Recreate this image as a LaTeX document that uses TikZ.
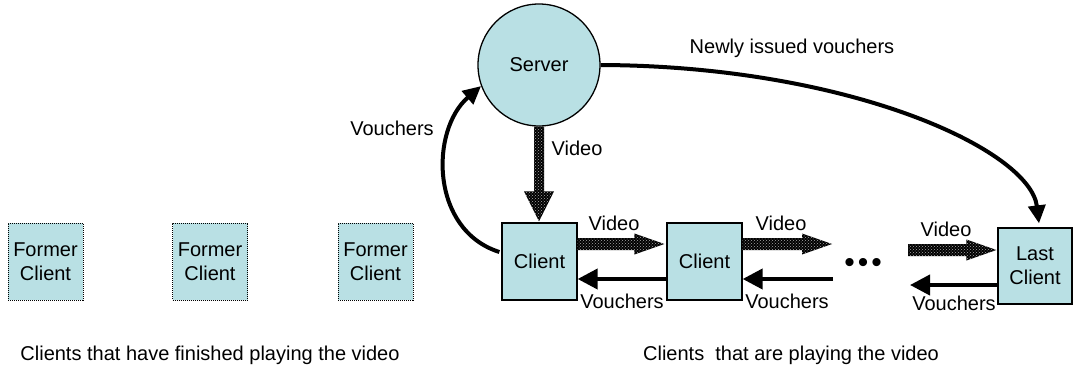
\documentclass[tikz,border=0pt]{standalone}
\usepackage{fontspec}
\setmainfont{Liberation Sans}
\usetikzlibrary{arrows.meta,calc,patterns}
\definecolor{boxfill}{RGB}{185,224,228}

\tikzset{
  every node/.style={font=\fontsize{20}{24}\selectfont},
  clientbox/.style={draw=black, line width=1.3pt, fill=boxfill,
    minimum width=75pt, minimum height=77pt, inner sep=0pt, align=center},
  formerbox/.style={clientbox, line width=1pt, densely dotted},
  serverball/.style={circle, draw=black, line width=1.3pt, fill=boxfill,
    minimum size=122pt, inner sep=0pt},
  voucherline/.style={line width=4pt, -{Triangle[length=20pt,width=20pt]}},
  vouchercurve/.style={line width=4pt, -{Triangle[length=18pt,width=17pt]}},
  videofill/.style={fill=black, postaction={pattern=crosshatch dots, pattern color=black!35}},
}

% fat patterned arrow, horizontal, from #1 to the tip #2
\newcommand\videoarrowH[2]{%
  \path[videofill] let \p1=(#1), \p2=(#2) in
    (\x1,\y1+6pt) -- (\x2-30pt,\y1+6pt) -- (\x2-30pt,\y1+10.5pt) -- (\x2,\y1)
    -- (\x2-30pt,\y1-10.5pt) -- (\x2-30pt,\y1-6pt) -- (\x1,\y1-6pt) -- cycle;}
% fat patterned arrow, pointing down, from #1 to the tip #2
\newcommand\videoarrowV[2]{%
  \path[videofill] let \p1=(#1), \p2=(#2) in
    (\x1-5pt,\y1) -- (\x1-5pt,\y2+30pt) -- (\x1-15pt,\y2+30pt) -- (\x1,\y2)
    -- (\x1+15pt,\y2+30pt) -- (\x1+5pt,\y2+30pt) -- (\x1+5pt,\y1) -- cycle;}

\begin{document}
\begin{tikzpicture}[x=1pt, y=-1pt]
\useasboundingbox (0,0) rectangle (1073,374);

% clients that are done
\node[formerbox] (f1) at (45.5,261.5) {Former\\Client};
\node[formerbox] (f2) at (210,261.5) {Former\\Client};
\node[formerbox] (f3) at (375.5,261.5) {Former\\Client};

% server and active chain
\node[serverball] (server) at (539,65) {Server};
\node[clientbox] (c1) at (539.5,261.5) {Client};
\node[clientbox] (c2) at (704.5,261.5) {Client};
\node[clientbox, minimum width=74pt, minimum height=76pt] (last) at (1035,266) {Last\\Client};
\node[anchor=base, font=\fontsize{30}{30}\selectfont] (dots) at (863,272) {•\hspace{3pt}•\hspace{3pt}•};

% free ends of the chain arrows
\coordinate (v2tip) at (832,244);
\coordinate (k2start) at (833,279);
\coordinate (v3start) at (908,250);
\coordinate (k3tip) at (910,285);

% video flow
\videoarrowV{server.south}{$(c1.north)+(0,-1)$}
\videoarrowH{$(c1.east)+(0,-17.5)$}{$(c2.west)+(-2,-17.5)$}
\videoarrowH{$(c2.east)+(0,-17.5)$}{v2tip}
\videoarrowH{v3start}{$(last.west)+(-1,-16)$}

% voucher flow
\draw[voucherline] ($(c2.west)+(0,17.5)$) -- ($(c1.east)+(0,17.5)$);
\draw[voucherline] (k2start) -- ($(c2.east)+(0,17.5)$);
\draw[voucherline] ($(last.west)+(0,19)$) -- (k3tip);
\draw[vouchercurve] ($(c1.west)+(-2,-9.5)$) .. controls (430,230) and (430,130) .. (server.200);
\draw[vouchercurve] (server.east) .. controls (850,66) and (1030,150) .. ($(last.north)+(4,-4)$);

% labels
\node (lnew) at (792,48) {Newly issued vouchers};
\node (lvleft) at (392,128) {Vouchers};
\node (lvid0) at (577,148) {Video};
\node (lvid1) at (614,223) {Video};
\node (lvid2) at (781,223) {Video};
\node (lvid3) at (946,229) {Video};
\node (lk1) at (622,301) {Vouchers};
\node (lk2) at (787,301) {Vouchers};
\node (lk3) at (954,303) {Vouchers};
\node (ldone) at (210,355) {Clients that have finished playing the video};
\node (lplay) at (791,355) {Clients\ \ that are playing the video};
\end{tikzpicture}
\end{document}
